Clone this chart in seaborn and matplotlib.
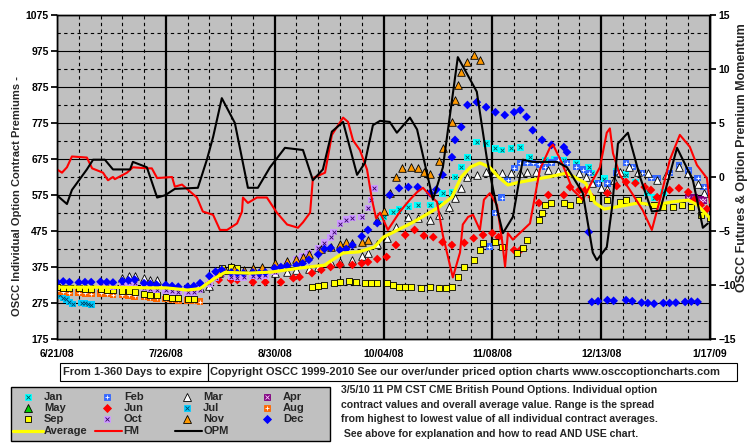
import numpy as np
import pandas as pd
import matplotlib
matplotlib.use('Agg')
import matplotlib.pyplot as plt
import seaborn as sns
from matplotlib.lines import Line2D
from matplotlib.patches import Rectangle

sns.set_theme(style='white')
plt.rcParams['font.family'] = ['Liberation Sans', 'DejaVu Sans']
plt.rcParams['font.weight'] = 'bold'

# x axis: days since 6/21/08
date_ticks = [0, 35, 70, 105, 140, 175, 210]
date_labels = ['6/21/08', '7/26/08', '8/30/08', '10/04/08', '11/08/08', '12/13/08', '1/17/09']

jan_d = [105, 108, 110, 113, 116, 120, 123, 124, 127, 128, 130, 132, 135, 138, 141, 143, 146, 149, 152, 157, 160, 163, 167, 171, 172, 173, 176, 180, 183, 186, 190, 192, 195]
jan_v = [514, 528, 535, 542, 547, 547, 550, 580, 583, 625, 653, 680, 722, 719, 705, 700, 705, 708, 680, 672, 675, 672, 664, 653, 636, 608, 620, 640, 631, 611, 583, 567, 583]

feb_d = [139, 141, 143, 145, 147, 149, 151, 153, 155, 157, 159, 161, 164, 167, 169, 171, 174, 177, 180, 183, 185, 188, 191, 193, 197, 200, 203, 206, 208, 210]
feb_v = [431, 525, 567, 617, 650, 664, 664, 664, 660, 653, 665, 672, 664, 653, 645, 636, 608, 608, 636, 664, 653, 636, 622, 622, 636, 658, 644, 622, 597, 583]

mar_d = [21, 23, 25, 28, 30, 32, 46, 49, 70, 74, 77, 81, 84, 88, 91, 95, 98, 100, 103, 106, 109, 113, 116, 120, 123, 126, 128, 130, 132, 135, 138, 141, 143, 146, 149, 151, 154, 158, 161, 164, 168, 170, 172, 175, 177, 179, 181, 184, 187, 190, 193, 196, 200, 203, 206, 208]
mar_v = [345, 350, 350, 345, 340, 338, 318, 322, 358, 362, 367, 370, 375, 385, 389, 395, 405, 414, 438, 455, 486, 514, 511, 506, 520, 542, 567, 594, 625, 631, 639, 636, 636, 636, 636, 639, 639, 644, 641, 639, 636, 625, 608, 594, 592, 617, 639, 653, 639, 636, 617, 631, 653, 636, 605, 580]

apr_d = [203, 205, 207, 208]
apr_v = [568, 567, 562, 560]

may_d = []
may_v = []

jun_d = [49, 52, 56, 58, 63, 67, 72, 76, 78, 82, 85, 88, 91, 95, 98, 100, 103, 106, 109, 112, 115, 118, 121, 124, 127, 131, 134, 137, 140, 142, 147, 149, 155, 158, 163, 165, 168, 170, 172, 177, 180, 183, 186, 189, 191, 193, 197, 200, 203, 205, 207, 209]
jun_v = [330, 339, 339, 339, 333, 333, 333, 344, 347, 358, 367, 375, 381, 381, 385, 389, 397, 403, 436, 464, 478, 462, 458, 444, 436, 442, 455, 464, 469, 458, 422, 422, 553, 575, 575, 597, 589, 589, 569, 580, 600, 611, 608, 597, 589, 569, 589, 594, 583, 561, 547, 536]

jul_d = [0, 1, 2, 3, 4, 5, 8, 9, 10, 11]
jul_v = [303, 296, 290, 285, 278, 272, 275, 274, 272, 270]

aug_d = [0, 2, 4, 7, 9, 11, 14, 16, 18, 21, 23, 25, 28, 30, 32, 35, 37, 39, 42, 44, 46]
aug_v = [308, 306, 304, 304, 302, 301, 302, 300, 298, 297, 296, 294, 292, 290, 288, 286, 284, 282, 283, 281, 279]

sep_d = [0, 2, 4, 7, 9, 11, 14, 16, 18, 21, 23, 25, 28, 30, 32, 35, 37, 39, 42, 44, 49, 51, 53, 56, 58,
         82, 84, 86, 89, 91, 94, 96, 99, 101, 103, 106, 108, 110, 112, 114, 117, 120, 123, 125, 127, 129, 131, 134, 136, 137,
         141, 143, 148, 150, 151, 155, 156, 157, 159, 163, 165, 168, 172, 177, 181, 183, 187, 192, 195, 198, 201, 204, 207, 210]
sep_v = [320, 318, 317, 316, 315, 314, 313, 312, 311, 309, 307, 305, 300, 298, 296, 292, 290, 288, 287, 286, 330, 355, 372, 375, 372,
         319, 322, 325, 331, 333, 336, 333, 331, 330, 331, 331, 325, 319, 320, 319, 318, 319, 317, 318, 319, 347, 375, 394, 422, 442,
         444, 431, 414, 428, 450, 506, 525, 547, 553, 553, 547, 561, 567, 561, 556, 561, 561, 547, 542, 542, 547, 542, 519, 511]

oct_d = [14, 16, 18, 21, 23, 25, 28, 30, 32, 35, 37, 39, 42, 44, 46, 49, 51, 53, 56, 58, 60, 63, 65, 67, 70, 72, 74, 77, 79, 81, 84, 86, 88, 89, 91, 93, 95, 98, 100, 101, 102]
oct_v = [325, 322, 320, 330, 332, 330, 318, 315, 312, 310, 308, 306, 305, 305, 312, 330, 345, 355, 348, 345, 346, 350, 348, 352, 362, 375, 386, 396, 405, 414, 428, 442, 458, 472, 495, 506, 511, 514, 539, 561, 594]

nov_d = [52, 54, 57, 60, 63, 66, 70, 74, 77, 79, 81, 85, 88, 91, 93, 95, 98, 100, 103, 105, 107, 109, 111, 114, 116, 118, 120, 123, 124, 127, 128, 129, 130, 132, 134, 136]
nov_v = [358, 367, 370, 368, 372, 375, 385, 392, 398, 404, 412, 425, 430, 440, 444, 442, 445, 450, 505, 530, 580, 625, 650, 652, 650, 640, 632, 670, 705, 778, 839, 880, 917, 944, 964, 950]

dec_d = [0, 2, 4, 7, 9, 11, 14, 16, 18, 21, 23, 25, 28, 30, 32, 35, 37, 39, 42, 44, 46, 49, 51, 53, 56, 58, 60, 63, 65, 67,
         70, 72, 74, 77, 79, 81, 84, 86, 88, 91, 93, 95, 98, 100, 103, 107, 110, 113, 116, 120, 122, 124, 127, 128, 130,
         132, 135, 138, 141, 144, 147, 149, 151, 153, 156, 159, 163, 164, 171,
         172, 174, 177, 179, 183, 185, 188, 190, 192, 195, 197, 199, 202, 204, 206]
dec_v = [333, 335, 333, 332, 333, 333, 334, 333, 332, 336, 338, 340, 330, 328, 326, 325, 322, 320, 320, 322, 330, 350, 362, 367, 360, 358, 358, 360, 358, 360,
         372, 375, 378, 380, 385, 395, 410, 425, 428, 422, 425, 436, 460, 478, 497, 575, 594, 597, 597, 580, 590, 631, 680, 728, 764,
         825, 833, 819, 805, 797, 805, 811, 792, 755, 728, 714, 708, 694, 472,
         278, 280, 283, 281, 283, 280, 276, 275, 273, 275, 275, 276, 278, 279, 278]

avg_d = [0, 14, 30, 35, 42, 46, 51, 54, 62, 69, 78, 86, 92, 97, 102, 105, 114, 123, 127, 130, 133, 136, 139, 142, 145, 149, 158, 164, 170, 173, 176, 180, 187, 192, 198, 203, 206, 209, 210]
avg_v = [319, 319, 317, 317, 311, 315, 345, 360, 358, 361, 372, 380, 414, 417, 430, 458, 497, 542, 569, 625, 653, 664, 653, 625, 603, 611, 625, 636, 608, 553, 536, 542, 553, 547, 556, 561, 547, 519, 511]

# right axis series
fm_d = [0, 1.6, 3.2, 4.8, 9.6, 11.3, 14.8, 16.4, 18, 18.6, 22.5, 24.4, 28.9, 30.5, 32.2, 37, 37.9, 40.2, 45, 46.9,
        50.2, 52.4, 54.7, 57.9, 59.5, 59.8, 61.4, 64.3, 67.5, 70.7, 74, 77.5, 79.1, 81.4, 82.3, 86.2, 88.4, 92, 93.6, 95.2,
        97.4, 99.7, 101.3, 102.6, 103.9, 106.4, 110.3, 113.5, 115.8, 117.7, 119.9, 122.2, 124.1, 127.3, 129.6, 130.5, 132.2, 133.8, 136, 137.3,
        139.2, 141.5, 143.1, 144.1, 145, 146.6, 152.1, 155.3, 158.5, 159.5, 162.4, 165.9, 169.1, 172.3, 174.6, 176.8, 177.8, 178.8, 181, 184.9,
        188.4, 191.3, 193.9, 197.1, 200.3, 203.5, 205.8, 209, 210]
fm_v = [0.7, 0.4, 0.9, 1.9, 1.8, 0.8, 0.4, -0.3, 0.0, -0.2, 0.4, 0.9, 0.8, 0.8, -0.1, 0.0, -0.9, -0.7, -1.9, -3.2,
        -3.5, -4.9, -4.9, -4.3, -3.2, -1.9, -2.4, -1.9, -1.9, -3.3, -4.4, -4.7, -4.2, -3.3, -0.1, 0.4, 3.9, 5.5, 5.1, 3.4,
        2.5, 0.7, -2.1, -3.8, -3.3, -4.9, -3.2, -2.1, -1.4, -1.0, -1.7, -2.3, -5.4, -9.3, -7.0, -4.4, -3.7, -3.5, -4.9, -2.1,
        -1.5, -2.6, -5.8, -8.3, -5.2, -5.8, -4.3, 0.7, 2.7, 3.0, 1.3, -1.2, -2.1, -0.3, 0.9, 4.1, 4.5, 2.2, 0.2, -1.5,
        -3.1, -4.9, -2.1, 1.6, 3.9, 2.8, 1.1, -0.1, -2.4]

opm_d = [0, 3.2, 4.8, 9.6, 11.6, 15.4, 18, 23.5, 24.4, 28.9, 32.2, 34.7, 37.9, 45.3, 48.2, 50.2, 53, 57.2, 61.4, 64.6,
         68.5, 73.3, 79.1, 82.3, 85.5, 88.4, 92, 96.5, 99, 101.6, 103.9, 107, 109.3, 113.5, 115.8, 120.9, 124.1, 128.9, 135, 138.3,
         141.8, 143.4, 146.6, 149.8, 153.1, 160.8, 164, 169.1, 172.3, 173.6, 176.8, 178.5, 180.4, 183.6, 187.5, 191.3, 193.9, 199.4, 204.5, 207.7, 209.3]
opm_v = [-1.7, -2.5, -1.2, 0.7, 1.6, 1.6, 0.7, 0.7, 1.4, 0.9, -1.9, -1.7, -1.1, -1.0, 1.6, 3.7, 7.3, 5.0, -1.0, -1.0,
         0.9, 2.7, 2.5, -0.3, 0.7, 4.2, 5.1, 0.2, 1.3, 4.8, 5.2, 5.1, 4.1, 5.5, 4.4, -2.1, 0.9, 11.1, 7.9, 1.6,
         -3.3, -5.2, -3.7, 1.6, 1.4, 1.4, 0.9, -1.5, -7.0, -7.7, -6.5, -2.8, 3.1, 4.1, 0.0, -3.2, -3.1, 2.7, -0.3, -4.7, -4.3]

# name, days, values, face, marker, size, edge, inner marker, inner colour
series = [
    ('Jan', jan_d, jan_v, '#00FFFF', 's', 24, 'none', 'x', '#005555'),
    ('Feb', feb_d, feb_v, '#3366FF', 's', 24, 'none', '+', 'white'),
    ('Mar', mar_d, mar_v, 'white', '^', 30, 'black', None, None),
    ('Apr', apr_d, apr_v, '#800080', 's', 24, 'none', 'x', '#FFCCFF'),
    ('May', may_d, may_v, '#00CC00', '^', 30, 'black', None, None),
    ('Jun', jun_d, jun_v, '#FF0000', 'D', 20, 'none', None, None),
    ('Jul', jul_d, jul_v, '#00CCFF', 's', 24, 'none', 'x', '#004466'),
    ('Aug', aug_d, aug_v, '#FF6600', 's', 24, 'none', '+', 'white'),
    ('Sep', sep_d, sep_v, '#FFFF00', 's', 24, 'black', None, None),
    ('Oct', oct_d, oct_v, '#CC99FF', 's', 24, 'none', 'x', '#330066'),
    ('Nov', nov_d, nov_v, '#FF9900', '^', 30, 'black', None, None),
    ('Dec', dec_d, dec_v, '#0000FF', 'D', 20, 'none', None, None),
]

W, H = 755, 446
fig = plt.figure(figsize=(W / 100, H / 100), dpi=100)
fig.patch.set_facecolor('white')
ax = fig.add_axes([57 / W, 1 - 339 / H, 653 / W, 324 / H])
ax.set_facecolor('#C0C0C0')

for name, d, v, fc, mk, s, ec, inner, ic in series:
    if not d:
        continue
    sns.scatterplot(x=d, y=v, color=fc, marker=mk, s=s, edgecolor=ec, linewidth=0.6, ax=ax, zorder=3, legend=False)
    if inner:
        ax.scatter(d, v, marker=inner, s=s * 0.3, c=ic, linewidths=0.6, zorder=3)

sns.lineplot(x=avg_d, y=avg_v, color='#FFFF00', lw=2.3, ax=ax, zorder=4, sort=False)

ax.set_xlim(0, 210)
ax.set_ylim(175, 1075)
ax.set_xticks(date_ticks)
ax.set_xticklabels(date_labels)
ax.set_xticks(np.arange(7, 210, 7), minor=True)
ax.set_yticks(np.arange(175, 1076, 100))
ax.set_yticks(np.arange(225, 1076, 100), minor=True)
ax.grid(which='major', axis='y', color='black', lw=0.8, ls='-')
ax.grid(which='minor', axis='y', color='black', lw=0.8, ls=(0, (3, 3)))
ax.grid(which='major', axis='x', color='black', lw=1.6, ls='-')
ax.grid(which='minor', axis='x', color='black', lw=0.8, ls=(0, (3, 3)))
ax.set_axisbelow(True)
ax.tick_params(axis='y', which='major', length=4, direction='out', labelsize=7.5, pad=2, colors='black')
ax.tick_params(axis='y', which='minor', length=0)
ax.tick_params(axis='x', which='major', length=5, direction='inout', labelsize=7.5, pad=5, colors='black')
ax.tick_params(axis='x', which='minor', length=3, direction='in')
ax.set_xlabel('')
ax.set_ylabel('')
for sp in ax.spines.values():
    sp.set_color('black')
    sp.set_linewidth(1)

ax2 = ax.twinx()
sns.lineplot(x=fm_d, y=fm_v, color='#FF0000', lw=1.5, ax=ax2, sort=False)
sns.lineplot(x=opm_d, y=opm_v, color='black', lw=1.5, ax=ax2, sort=False)
ax2.set_ylim(-15, 15)
ax2.set_yticks(np.arange(-15, 16, 5))
ax2.tick_params(axis='y', length=4, direction='out', labelsize=7.5, pad=2, colors='black')
ax2.grid(False)
ax2.set_ylabel('')
for sp in ax2.spines.values():
    sp.set_color('black')
    sp.set_linewidth(1)

fig.text(17 / W, 1 - 196 / H, 'OSCC Individual Option Contract Premiums -', rotation=90,
         ha='center', va='center', fontsize=8, weight='bold')
fig.text(742 / W, 1 - 158 / H, 'OSCC Futures & Option Premium Momentum', rotation=90,
         ha='center', va='center', fontsize=9, weight='bold')

# boxes below the chart
fig.add_artist(Rectangle((60 / W, 1 - 381 / H), 148 / W, 18 / H, transform=fig.transFigure,
                         fill=False, ec='black', lw=0.8))
fig.text(63 / W, 1 - 372 / H, 'From 1-360 Days to expire', ha='left', va='center', fontsize=8, weight='bold')
fig.add_artist(Rectangle((208 / W, 1 - 381 / H), 529 / W, 18 / H, transform=fig.transFigure,
                         fill=False, ec='black', lw=0.8))
fig.text(210 / W, 1 - 372 / H,
         'Copyright OSCC 1999-2010 See our over/under priced option charts www.osccoptioncharts.com',
         ha='left', va='center', fontsize=8, weight='bold')

notes = ['3/5/10 11 PM CST CME British Pound Options. Individual option',
         'contract values and overall average value. Range is the spread',
         'from highest to lowest value of all individual contract averages.',
         ' See above for explanation and how to read AND USE chart.']
for i, line in enumerate(notes):
    fig.text(341 / W, 1 - (390 + 14.7 * i) / H, line, ha='left', va='center', fontsize=7.6, weight='bold')

# legend box drawn by hand
fig.add_artist(Rectangle((11 / W, 1 - 441 / H), 319 / W, 54 / H, transform=fig.transFigure,
                         fc='#C0C0C0', ec='black', lw=1))
icon_x = [28, 107, 187, 267]
label_x = [44, 124, 203, 283]
row_y = [397, 408, 419, 431]
for k, (name, d, v, fc, mk, s, ec, inner, ic) in enumerate(series):
    r, c = divmod(k, 4)
    x, y = icon_x[c] / W, 1 - row_y[r] / H
    ms = np.sqrt(s)
    fig.add_artist(Line2D([x], [y], transform=fig.transFigure, marker=mk, ms=ms, mfc=fc,
                          mec=ec if ec != 'none' else fc, mew=0.6, ls='none'))
    if inner:
        fig.add_artist(Line2D([x], [y], transform=fig.transFigure, marker=inner, ms=ms * 0.55,
                              mec=ic, mew=0.6, ls='none'))
    fig.text(label_x[c] / W, y, name, ha='left', va='center', fontsize=8, weight='bold')

line_items = [('Average', '#FFFF00', 2.3, 13, 43, 44), ('FM', '#FF0000', 1.5, 95, 122, 123),
              ('OPM', 'black', 1.5, 175, 202, 203)]
for name, col, lw, x0, x1, lx in line_items:
    y = 1 - row_y[3] / H
    fig.add_artist(Line2D([x0 / W, x1 / W], [y, y], transform=fig.transFigure, color=col, lw=lw))
    fig.text(lx / W, y, name, ha='left', va='center', fontsize=8, weight='bold')

fig.savefig('out.png', dpi=100, facecolor='white')
